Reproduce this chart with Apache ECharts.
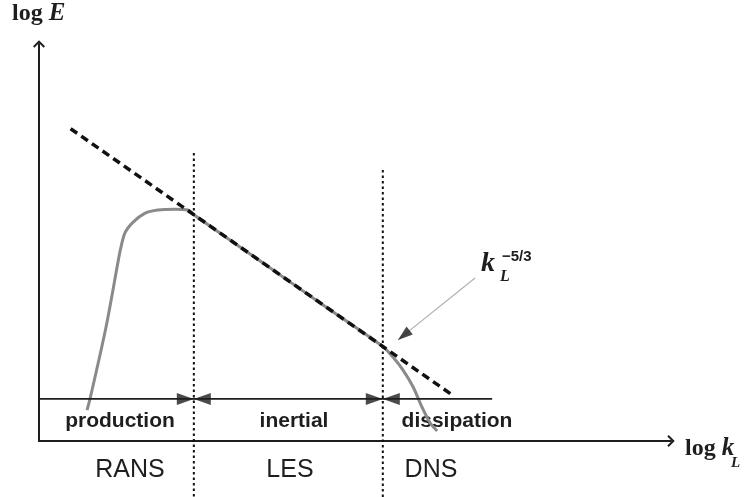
<!DOCTYPE html>
<html>
<head>
<meta charset="utf-8">
<script src="https://cdn.jsdelivr.net/npm/echarts@6/dist/echarts.min.js"></script>
<style>
  html, body { margin: 0; padding: 0; background: #fff; }
  #chart { width: 750px; height: 497px; }
</style>
</head>
<body>
<div id="chart"></div>
<script>
// Axis extents in (log k, log E) units
const logKRange = [0, 10];
const logERange = [0, 15];

// Kolmogorov k^-5/3 reference line
const powerLaw = [[0.5, 11.8], [6.55, 1.72]];

// Schematic turbulent energy spectrum
const spectrum = [
  [0.76, 1.17], [0.81, 1.62], [1.06, 4.3], [1.25, 6.76], [1.28, 7.14],
  [1.36, 7.86], [1.49, 8.27], [1.68, 8.61], [1.88, 8.73], [2.15, 8.76],
  [2.36, 8.73], [2.45, 8.55], [3.5, 6.8], [4.5, 5.13], [5.44, 3.57],
  [5.60, 3.17], [5.76, 2.68], [5.92, 2.04], [6.06, 1.28], [6.19, 0.68],
  [6.30, 0.38]
];

// Range boundaries (log k) and the top of each divider (log E)
const cutoffK = [2.45, 5.44];
const cutoffTop = [10.88, 10.24];
const dividerBottom = -2.2;

// Double-arrow range bar
const rangeLevel = 1.59;
const rangeEnd = 7.17;

// Pointer to the -5/3 line
const pointerFrom = [6.90, 6.16];
const pointerTo = [5.68, 3.82];

const regimeLabels = ['production', 'inertial', 'dissipation'];
const modelLabels = ['RANS', 'LES', 'DNS'];

const SANS = "'Liberation Sans', Arial, Helvetica, sans-serif";
const SERIF = "'Liberation Serif', 'Times New Roman', serif";
const INK = '#1e1e1e';
const chevron = 'path://M0,0 L6,6 L4.6,7.4 L0,2.8 L-4.6,7.4 L-6,6 Z';

const chart = echarts.init(document.getElementById('chart'));

const axisCommon = {
  type: 'value',
  axisLine: {
    show: true, onZero: true,
    lineStyle: { color: INK, width: 2 },
    symbol: ['none', chevron],
    symbolSize: [12, 8]
  },
  axisTick: { show: false },
  axisLabel: { show: false },
  splitLine: { show: false }
};

function label(x, y, text, font, align) {
  return { type: 'text', x: x, y: y, style: {
    text: text, font: font, fill: INK,
    align: align, textAlign: align,
    verticalAlign: 'middle', textVerticalAlign: 'middle' } };
}

chart.setOption({
  animation: false,
  backgroundColor: '#fff',
  grid: { left: 39, top: 44, right: 79, bottom: 56 },
  xAxis: Object.assign({}, axisCommon, { min: logKRange[0], max: logKRange[1] }),
  yAxis: Object.assign({}, axisCommon, { min: logERange[0], max: logERange[1] }),
  series: [
    {
      id: 'spectrum', type: 'line', data: spectrum, smooth: 0.3,
      symbol: 'none', clip: false, z: 2, silent: true,
      lineStyle: { color: '#8a8a8a', width: 3 }
    },
    {
      id: 'powerLaw', type: 'line', data: powerLaw,
      symbol: 'none', clip: false, z: 3, silent: true,
      lineStyle: { color: '#111', width: 3.5, type: [8, 5] }
    },
    {
      id: 'dividerRansLes', type: 'line',
      data: [[cutoffK[0], cutoffTop[0]], [cutoffK[0], dividerBottom]],
      symbol: 'none', clip: false, z: 4, silent: true,
      lineStyle: { color: '#111', width: 2, type: [2.5, 3] }
    },
    {
      id: 'dividerLesDns', type: 'line',
      data: [[cutoffK[1], cutoffTop[1]], [cutoffK[1], dividerBottom]],
      symbol: 'none', clip: false, z: 4, silent: true,
      lineStyle: { color: '#111', width: 2, type: [2.5, 3] }
    },
    {
      id: 'rangeBar', type: 'line',
      data: [[logKRange[0], rangeLevel], [rangeEnd, rangeLevel]],
      symbol: 'none', clip: false, z: 4, silent: true,
      lineStyle: { color: INK, width: 1.6 }
    },
    {
      id: 'pointer', type: 'line',
      data: [pointerFrom, pointerTo],
      symbol: 'none', clip: false, z: 4, silent: true,
      lineStyle: { color: '#b0b0b0', width: 1.2 }
    },
    {
      id: 'arrowheads', type: 'scatter', symbol: 'triangle',
      data: [], clip: false, z: 6, silent: true,
      emphasis: { disabled: true }
    }
  ],
  graphic: [
    { type: 'text', x: 12, y: 14, style: {
        text: '{a|log }{b|E}', align: 'left', textAlign: 'left',
        verticalAlign: 'middle', textVerticalAlign: 'middle', fill: INK,
        rich: {
          a: { fontFamily: SERIF, fontWeight: 'bold', fontSize: 24, fill: INK },
          b: { fontFamily: SERIF, fontWeight: 'bold', fontStyle: 'italic', fontSize: 25, fill: INK }
        } } },
    { type: 'text', x: 685, y: 449, style: {
        text: '{a|log }{b|k}', align: 'left', textAlign: 'left',
        verticalAlign: 'middle', textVerticalAlign: 'middle', fill: INK,
        rich: {
          a: { fontFamily: SERIF, fontWeight: 'bold', fontSize: 24, fill: INK },
          b: { fontFamily: SERIF, fontWeight: 'bold', fontStyle: 'italic', fontSize: 25, fill: INK }
        } } },
    label(731, 463, 'L', "italic bold 15px " + SERIF, 'left'),
    label(481, 264, 'k', "italic bold 28px " + SERIF, 'left'),
    label(500, 277, 'L', "italic bold 16px " + SERIF, 'left'),
    label(502, 257, '\u22125/3', "bold 15px " + SANS, 'left'),
    label(120, 421, regimeLabels[0], "bold 21px " + SANS, 'center'),
    label(294, 421, regimeLabels[1], "bold 21px " + SANS, 'center'),
    label(457, 421, regimeLabels[2], "bold 21px " + SANS, 'center'),
    label(130, 470, modelLabels[0], "25px " + SANS, 'center'),
    label(290, 470, modelLabels[1], "25px " + SANS, 'center'),
    label(431, 470, modelLabels[2], "25px " + SANS, 'center')
  ]
});

// Filled triangular arrowhead whose tip sits on `to`, oriented along from -> to
function arrowHead(from, to, size, color) {
  const p0 = chart.convertToPixel({ gridIndex: 0 }, from);
  const p1 = chart.convertToPixel({ gridIndex: 0 }, to);
  const dx = p1[0] - p0[0], dy = p1[1] - p0[1];
  const len = Math.hypot(dx, dy) || 1;
  const ux = dx / len, uy = dy / len;
  return {
    value: to,
    symbolSize: size,
    symbolRotate: Math.atan2(-dy, dx) * 180 / Math.PI - 90,
    symbolOffset: [-ux * size[1] / 2, -uy * size[1] / 2],
    itemStyle: { color: color }
  };
}

const barHead = [12, 17];
const heads = [
  arrowHead([logKRange[0], rangeLevel], [cutoffK[0], rangeLevel], barHead, INK),
  arrowHead([cutoffK[1], rangeLevel], [cutoffK[0], rangeLevel], barHead, INK),
  arrowHead([cutoffK[0], rangeLevel], [cutoffK[1], rangeLevel], barHead, INK),
  arrowHead([rangeEnd, rangeLevel], [cutoffK[1], rangeLevel], barHead, INK),
  arrowHead(pointerFrom, pointerTo, [10, 15], '#1a1a1a')
];

chart.setOption({ series: [{ id: 'arrowheads', data: heads }] });
</script>
</body>
</html>
